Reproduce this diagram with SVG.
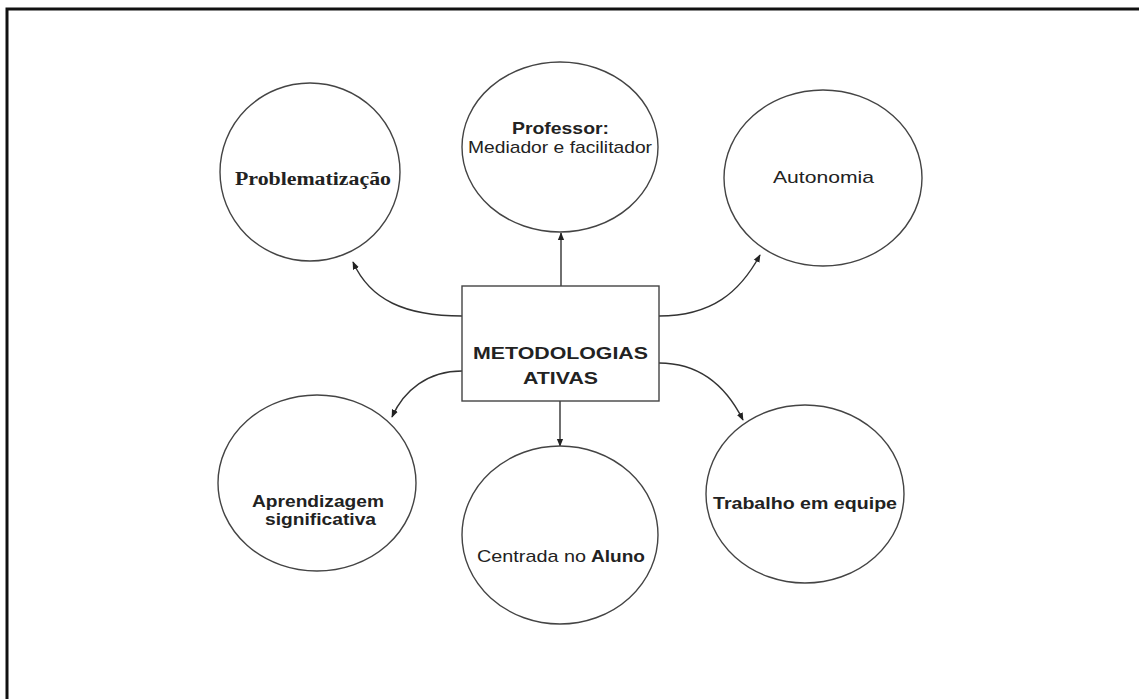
<svg xmlns="http://www.w3.org/2000/svg" width="1139" height="699" viewBox="0 0 1139 699">
<defs>
<style>
.node{fill:#fff;stroke:#444;stroke-width:1.4}
.t{font-family:"Liberation Sans",Arial,sans-serif;font-size:17px;fill:#222}
.b{font-weight:bold}
.serif{font-family:"Liberation Serif","Times New Roman",serif;font-size:18px;font-weight:bold;fill:#222}
.edge{fill:none;stroke:#333;stroke-width:1.4;marker-end:url(#ah)}
</style>
<marker id="ah" viewBox="0 0 10 10" refX="9" refY="5" markerWidth="8" markerHeight="8" markerUnits="userSpaceOnUse" orient="auto">
<path d="M0,1 L10,5 L0,9 Z" fill="#222"/>
</marker>
</defs>
<rect width="1139" height="699" fill="#fff"/>
<path d="M7,699 V9 H1139" fill="none" stroke="#111" stroke-width="3"/>

<g id="connectors">
<path class="edge" d="M462,316 C405,316 370,300 353,262"/>
<path class="edge" d="M561,286 V233"/>
<path class="edge" d="M659,316 C712,316 740,292 760,255"/>
<path class="edge" d="M462,371 C428,371 404,390 392,417"/>
<path class="edge" d="M560,401 V446"/>
<path class="edge" d="M659,363 C700,363 726,386 743,420"/>
</g>

<g id="problematizacao">
<ellipse class="node" cx="310" cy="172" rx="90" ry="89"/>
<text class="serif" x="235" y="185" textLength="156" lengthAdjust="spacingAndGlyphs">Problematização</text>
</g>

<g id="professor">
<ellipse class="node" cx="560" cy="147" rx="98" ry="85"/>
<text class="t b" x="512" y="134" textLength="97" lengthAdjust="spacingAndGlyphs">Professor:</text>
<text class="t" x="468" y="153" textLength="184" lengthAdjust="spacingAndGlyphs">Mediador e facilitador</text>
</g>

<g id="autonomia">
<ellipse class="node" cx="823" cy="178" rx="99" ry="88"/>
<text class="t" x="773" y="183" textLength="101" lengthAdjust="spacingAndGlyphs">Autonomia</text>
</g>

<g id="metodologias">
<rect class="node" x="462" y="286" width="197" height="115"/>
<text class="t b" x="473" y="359" textLength="175" lengthAdjust="spacingAndGlyphs">METODOLOGIAS</text>
<text class="t b" x="523" y="384" textLength="75" lengthAdjust="spacingAndGlyphs">ATIVAS</text>
</g>

<g id="aprendizagem">
<ellipse class="node" cx="317" cy="483" rx="99" ry="88"/>
<text class="t b" x="252" y="507" textLength="132" lengthAdjust="spacingAndGlyphs">Aprendizagem</text>
<text class="t b" x="265" y="525" textLength="111" lengthAdjust="spacingAndGlyphs">significativa</text>
</g>

<g id="centrada">
<ellipse class="node" cx="560" cy="535" rx="98" ry="89"/>
<text class="t" x="477" y="562" textLength="109" lengthAdjust="spacingAndGlyphs">Centrada no</text>
<text class="t b" x="591" y="562" textLength="54" lengthAdjust="spacingAndGlyphs">Aluno</text>
</g>

<g id="trabalho">
<ellipse class="node" cx="805" cy="494" rx="99" ry="89"/>
<text class="t b" x="713" y="509" textLength="184" lengthAdjust="spacingAndGlyphs">Trabalho em equipe</text>
</g>
</svg>
